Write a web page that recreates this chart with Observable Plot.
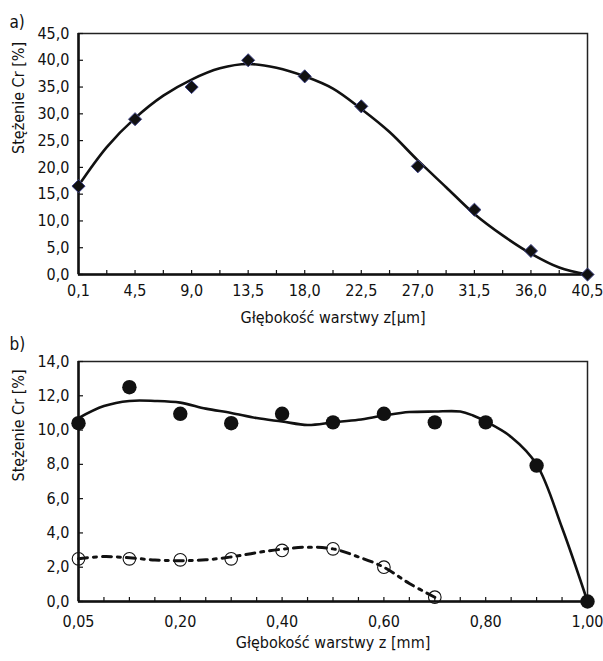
<!DOCTYPE html>
<html><head><meta charset="utf-8">
<script src="https://cdn.jsdelivr.net/npm/d3@7"></script>
<script src="https://cdn.jsdelivr.net/npm/@observablehq/plot@0.6"></script>
<style>
body{margin:0;background:#fff}
#chart{position:relative;width:603px;height:661px;background:#fff}
#chart svg{position:absolute;left:0}
</style>
</head><body><div id="chart"></div>
<script>
// ---- Panel a) ----
const depthA = ["0,1","4,5","9,0","13,5","18,0","22,5","27,0","31,5","36,0","40,5"];
const crA = [16.5, 29.0, 35.0, 40.0, 37.0, 31.4, 20.2, 12.1, 4.4, 0.0];
// smooth trend line, sampled every half category step
const fitAPos = [0,0.5,1,1.5,2,2.5,3,3.5,4,4.5,5,5.5,6,6.5,7,7.5,8,8.5,9];
const fitA = [16.6,23.8,29.2,33.4,36.4,38.5,39.3,38.6,37.0,34.7,30.9,26.6,21.3,16.3,11.3,7.3,3.9,1.3,0.0];
const yTicksA = [0,5,10,15,20,25,30,35,40,45];

// ---- Panel b) ----
const depthB = ["0,05","0,10","0,20","0,30","0,40","0,50","0,60","0,70","0,80","0,90","1,00"];
const shownB = [0,2,4,6,8,10]; // labelled categories
const crB1 = [10.4, 12.5, 10.95, 10.4, 10.95, 10.45, 10.95, 10.45, 10.45, 7.93, 0.0];
const fitB1Pos = [0,0.5,1,1.5,2,2.5,3,3.5,4,4.5,5,5.5,6,6.5,7,7.5,7.75,8,8.5,9,9.5,10];
const fitB1 = [10.7,11.4,11.7,11.7,11.6,11.25,11.0,10.7,10.5,10.3,10.45,10.6,10.85,11.05,11.08,11.08,10.85,10.5,9.6,8.0,4.3,0.0];
const crB2 = [2.49, 2.49, 2.43, 2.49, 2.98, 3.07, 2.0, 0.25];
const fitB2Pos = [0,0.5,1,1.5,2,2.5,3,3.5,4,4.5,5,5.5,6,6.5,7];
const fitB2 = [2.5,2.62,2.55,2.42,2.38,2.43,2.6,2.85,3.05,3.17,3.07,2.6,2.0,1.05,0.25];
const yTicksB = [0,2,4,6,8,10,12,14];

const yTitle = "Stężenie Cr [%]";
const xTitleA = "Głębokość warstwy z[µm]";
const xTitleB = "Głębokość warstwy z [mm]";

const font = "'Liberation Sans Narrow','Arial Narrow','DejaVu Sans Condensed',sans-serif";
const fmt = d => d.toFixed(1).replace(".", ",");
const style = {fontFamily: font, fontSize: "16px", color: "#111", background: "transparent", overflow: "visible"};

function frameMarks(yTicks, xMinor, xMajor, xFmt, tickPad) {
  return [
    Plot.frame({stroke: "#222", strokeWidth: 1.5}),
    Plot.ruleY([0], {stroke: "#111", strokeWidth: 2.5}),
    Plot.ruleX([0], {stroke: "#111", strokeWidth: 2.5}),
    Plot.axisY({ticks: yTicks, tickSize: 5, dx: 5, tickFormat: () => "", label: null, strokeWidth: 1.2}),
    Plot.axisY({ticks: yTicks, tickSize: 0, tickPadding: 9, tickFormat: fmt, label: null}),
    Plot.axisX({ticks: xMinor, tickSize: 4, dy: -4, tickFormat: () => "", label: null, strokeWidth: 1.2}),
    Plot.axisX({ticks: xMajor, tickSize: 0, tickPadding: tickPad, tickFormat: xFmt, label: null})
  ];
}

const plotA = Plot.plot({
  width: 603, height: 330,
  marginLeft: 78, marginRight: 16, marginTop: 33, marginBottom: 56,
  x: {domain: [0, 9]}, y: {domain: [0, 45]},
  style,
  marks: [
    ...frameMarks(yTicksA, d3.range(0, 9.01, 0.5), d3.range(0, 10), i => depthA[i], 10),
    Plot.line(fitAPos, {x: d => d, y: (d, i) => fitA[i], curve: "catmull-rom", stroke: "#111", strokeWidth: 2.6}),
    Plot.dot(crA, {x: (d, i) => i, y: d => d, symbol: "diamond2", r: 5.9, fill: "#111", stroke: "#3d4285", strokeWidth: 1}),
    Plot.text(["a)"], {frameAnchor: "top-left", dx: -69, dy: -18, textAnchor: "start", fontSize: 17}),
    Plot.text([yTitle], {frameAnchor: "left", dx: -60, rotate: -90, fontSize: 16}),
    Plot.text([xTitleA], {frameAnchor: "bottom", dy: 48, fontSize: 16})
  ]
});

const plotB = Plot.plot({
  width: 603, height: 331,
  marginLeft: 78, marginRight: 16, marginTop: 31, marginBottom: 60,
  x: {domain: [0, 10]}, y: {domain: [0, 14]},
  style,
  marks: [
    ...frameMarks(yTicksB, d3.range(0, 10.01, 0.5), shownB, i => depthB[i], 14),
    Plot.line(fitB1Pos, {x: d => d, y: (d, i) => fitB1[i], curve: "catmull-rom", stroke: "#111", strokeWidth: 2.6}),
    Plot.line(fitB2Pos, {x: d => d, y: (d, i) => fitB2[i], curve: "catmull-rom", stroke: "#111", strokeWidth: 3, strokeDasharray: "9,6,3,6"}),
    Plot.dot(crB2, {x: (d, i) => i, y: d => d, r: 6.3, fill: "none", stroke: "#111", strokeWidth: 1.1}),
    Plot.dot(crB1, {x: (d, i) => i, y: d => d, r: 7.2, fill: "#111", stroke: "none"}),
    Plot.text(["b)"], {frameAnchor: "top-left", dx: -69, dy: -24, textAnchor: "start", fontSize: 17}),
    Plot.text([yTitle], {frameAnchor: "left", dx: -60, rotate: -90, fontSize: 16}),
    Plot.text([xTitleB], {frameAnchor: "bottom", dy: 46, fontSize: 16})
  ]
});

const chart = document.getElementById("chart");
plotA.style.top = "0px";
plotB.style.top = "330px";
chart.append(plotA, plotB);
</script>
</body></html>
